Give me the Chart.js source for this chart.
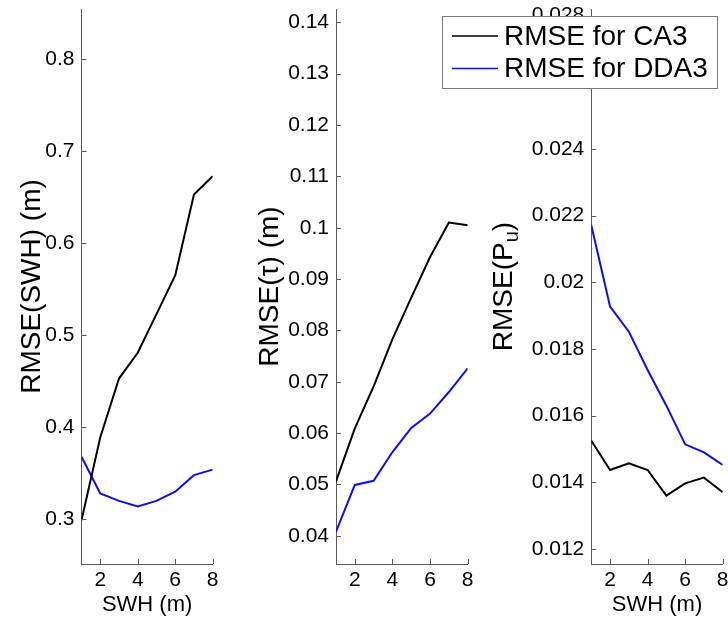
<!DOCTYPE html>
<html lang="en">
<head>
<meta charset="UTF-8">
<title>RMSE vs SWH</title>
<script src="https://cdn.jsdelivr.net/npm/chart.js"></script>
<style>
  body { margin: 0; background: #fff; }
  #wrap { position: relative; width: 728px; height: 619px; }
  #wrap canvas { position: absolute; left: 0; top: 0; }
</style>
</head>
<body>
<div id="wrap">
  <canvas id="c1" width="728" height="619"></canvas>
  <canvas id="c2" width="728" height="619"></canvas>
  <canvas id="c3" width="728" height="619"></canvas>
</div>
<script>
// significant wave height bins (m)
const swh = [1, 2, 3, 4, 5, 6, 7, 8];

const swhCA3  = [0.299, 0.389, 0.453, 0.481, 0.523, 0.565, 0.653, 0.673];
const swhDDA3 = [0.368, 0.328, 0.320, 0.314, 0.320, 0.330, 0.348, 0.354];

const tauCA3  = [0.0506, 0.0609, 0.0691, 0.0783, 0.0864, 0.0943, 0.1010, 0.1005];
const tauDDA3 = [0.0408, 0.0499, 0.0507, 0.0563, 0.0610, 0.0638, 0.0680, 0.0726];

const puCA3  = [0.01525, 0.01437, 0.01457, 0.01437, 0.0136, 0.01397, 0.01414, 0.0137];
const puDDA3 = [0.02171, 0.01927, 0.01852, 0.01737, 0.0163, 0.01514, 0.0149, 0.01452];

const xTicks   = [2, 4, 6, 8];
const swhTicks = [0.3, 0.4, 0.5, 0.6, 0.7, 0.8];
const tauTicks = [0.04, 0.05, 0.06, 0.07, 0.08, 0.09, 0.1, 0.11, 0.12, 0.13, 0.14];
const puTicks  = [0.012, 0.014, 0.016, 0.018, 0.02, 0.022, 0.024, 0.026, 0.028];

const seriesNames = ['RMSE for CA3', 'RMSE for DDA3'];

const FONT = '"Liberation Sans", Arial, sans-serif';
const AXIS = '#5a5a5a';
Chart.defaults.font.family = FONT;
Chart.defaults.color = '#000';

const pts = ys => ys.map((v, i) => ({ x: swh[i], y: v }));

// MATLAB-style tick marks pointing into the axes
const innerTicks = {
  id: 'innerTicks',
  afterDraw(chart) {
    const { ctx, chartArea: a, scales: { x, y } } = chart;
    ctx.save();
    ctx.strokeStyle = AXIS;
    ctx.lineWidth = 1;
    ctx.beginPath();
    x.ticks.forEach(t => {
      const px = Math.round(x.getPixelForValue(t.value)) + 0.5;
      ctx.moveTo(px, a.bottom); ctx.lineTo(px, a.bottom - 5);
    });
    y.ticks.forEach(t => {
      const py = Math.round(y.getPixelForValue(t.value)) + 0.5;
      ctx.moveTo(a.left, py); ctx.lineTo(a.left + 5, py);
    });
    ctx.stroke();
    ctx.restore();
  }
};

// rotated y label, allows a subscript part
const yTitle = {
  id: 'yTitle',
  afterDraw(chart, args, o) {
    const { ctx, chartArea: a } = chart;
    const big = '28px ' + FONT, small = '20px ' + FONT;
    ctx.save();
    ctx.translate(o.x, (a.top + a.bottom) / 2 + (o.shift || 0));
    ctx.rotate(-Math.PI / 2);
    ctx.fillStyle = '#000';
    ctx.textBaseline = 'alphabetic';
    ctx.textAlign = 'left';
    let total = 0;
    const widths = o.parts.map(p => {
      ctx.font = p.sub ? small : big;
      const w = ctx.measureText(p.text).width;
      total += w;
      return w;
    });
    let tx = -total / 2;
    o.parts.forEach((p, i) => {
      ctx.font = p.sub ? small : big;
      ctx.fillText(p.text, tx, p.sub ? 16 : 10);
      tx += widths[i];
    });
    ctx.restore();
  }
};

// boxed legend laid over the top of the right panels
const boxLegend = {
  id: 'boxLegend',
  afterDraw(chart, args, o) {
    const ctx = chart.ctx;
    ctx.save();
    ctx.fillStyle = '#fff';
    ctx.fillRect(o.left, o.top, o.width, o.height);
    ctx.strokeStyle = '#7a7a7a';
    ctx.lineWidth = 1;
    ctx.strokeRect(o.left + 0.5, o.top + 0.5, o.width, o.height);
    ctx.font = '28px ' + FONT;
    ctx.textBaseline = 'middle';
    chart.data.datasets.forEach((ds, i) => {
      const y = o.top + o.first + i * o.gap;
      ctx.strokeStyle = ds.borderColor;
      ctx.lineWidth = 1.5;
      ctx.beginPath();
      ctx.moveTo(o.left + 10, y); ctx.lineTo(o.left + 56, y);
      ctx.stroke();
      ctx.fillStyle = '#000';
      ctx.fillText(ds.label, o.left + 62, y + 1);
    });
    ctx.restore();
  }
};

const fmt = v => String(+v.toFixed(4));

function panel(id, ca3, dda3, yTicks, yMin, yMax, left, right, xTitle, titleOpts, extra) {
  const yWidth = 70;
  const plugins = [innerTicks, yTitle];
  if (extra) plugins.push(boxLegend);
  return new Chart(document.getElementById(id), {
    type: 'line',
    data: {
      datasets: [
        { label: seriesNames[0], data: pts(ca3), borderColor: '#000', borderWidth: 2, pointRadius: 0, tension: 0 },
        { label: seriesNames[1], data: pts(dda3), borderColor: '#0d0de8', borderWidth: 2, pointRadius: 0, tension: 0 }
      ]
    },
    options: {
      responsive: false,
      animation: false,
      devicePixelRatio: 1,
      layout: { padding: { left: left - yWidth, right: 728 - right, top: 9, bottom: 0 } },
      plugins: {
        legend: { display: false },
        tooltip: { enabled: false },
        yTitle: titleOpts,
        boxLegend: extra || {}
      },
      scales: {
        x: {
          type: 'linear',
          min: 1, max: 8,
          grid: { display: false, drawTicks: false, tickLength: 0 },
          border: { display: true, color: AXIS, width: 1 },
          ticks: { font: { size: 21 }, padding: 4, maxRotation: 0, autoSkip: false },
          title: { display: !!xTitle, text: xTitle || '', font: { size: 22 }, padding: { top: 0, bottom: 1 } },
          afterBuildTicks: s => { s.ticks = xTicks.map(v => ({ value: v })); },
          afterFit: s => { s.height = 55; s.paddingLeft = 0; s.paddingRight = 0; }
        },
        y: {
          min: yMin, max: yMax,
          grid: { display: false, drawTicks: false, tickLength: 0 },
          border: { display: true, color: AXIS, width: 1 },
          ticks: { font: { size: 21 }, padding: 7, callback: fmt },
          afterBuildTicks: s => { s.ticks = yTicks.map(v => ({ value: v })); },
          afterFit: s => { s.width = yWidth; s.paddingTop = 0; s.paddingBottom = 0; }
        }
      }
    },
    plugins
  });
}

panel('c1', swhCA3, swhDDA3, swhTicks, 0.2514, 0.8547, 81.5, 212.7, 'SWH (m)',
  { x: 30, parts: [{ text: 'RMSE(SWH) (m)' }] });

panel('c2', tauCA3, tauDDA3, tauTicks, 0.0345, 0.1426, 336, 467.7, null,
  { x: 268, parts: [{ text: 'RMSE(τ) (m)' }] });

panel('c3', puCA3, puDDA3, puTicks, 0.01155, 0.0282, 591.3, 722.7, 'SWH (m)',
  { x: 502, parts: [{ text: 'RMSE(P' }, { text: 'u', sub: true }, { text: ')' }] },
  { left: 442, top: 16, width: 275, height: 72, first: 20, gap: 32.5 });
</script>
</body>
</html>
